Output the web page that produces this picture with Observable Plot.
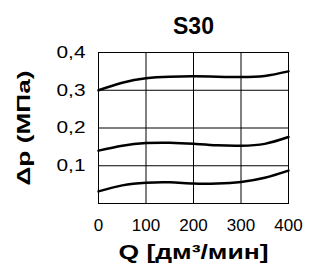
<!DOCTYPE html>
<html><head><meta charset="utf-8">
<script src="https://cdn.jsdelivr.net/npm/d3@7"></script>
<script src="https://cdn.jsdelivr.net/npm/@observablehq/plot@0.6"></script>
<style>body{margin:0;background:#fff}svg{display:block}</style>
</head><body><div id="c"></div>
<script>
const title = "S30";
const xLabel = "Q [дм³/мин]";
const yLabel = "Δp (МПа)";
const q = [0, 50, 100, 150, 200, 250, 300, 350, 400];
const curveTop = [0.300, 0.320, 0.332, 0.336, 0.337, 0.336, 0.335, 0.338, 0.350];
const curveMid = [0.140, 0.153, 0.160, 0.161, 0.158, 0.154, 0.153, 0.158, 0.176];
const curveBot = [0.032, 0.048, 0.055, 0.056, 0.053, 0.053, 0.057, 0.068, 0.087];
const xTicks = [0, 100, 200, 300, 400];
const yTicks = [0.1, 0.2, 0.3, 0.4];

const series = [["top", curveTop], ["mid", curveMid], ["bot", curveBot]];
const data = series.flatMap(([k, v]) => v.map((y, i) => ({k, x: q[i], y})));
const fmt = d => d.toFixed(1).replace(".", ",");

const chart = Plot.plot({
  width: 310, height: 266,
  marginLeft: 98, marginRight: 22, marginTop: 52, marginBottom: 63,
  style: {fontFamily: "'Liberation Sans', Arial, sans-serif", fontSize: "17px", color: "#000", background: "#fff"},
  x: {domain: [0, 400]},
  y: {domain: [0, 0.4]},
  marks: [
    Plot.gridX([100, 200, 300], {stroke: "#000", strokeOpacity: 1, strokeWidth: 1}),
    Plot.gridY([0.1, 0.2, 0.3], {stroke: "#000", strokeOpacity: 1, strokeWidth: 1}),
    Plot.frame({stroke: "#000", strokeWidth: 1}),
    Plot.axisX(xTicks, {tickSize: 0, tickPadding: 15, fontSize: 17, label: xLabel, labelAnchor: "center", labelArrow: "none", labelOffset: 55}),
    Plot.axisY(yTicks, {tickSize: 0, tickPadding: 13, tickFormat: fmt, fontSize: 17, label: yLabel, labelAnchor: "center", labelArrow: "none", labelOffset: 82}),
    Plot.line(data, {x: "x", y: "y", z: "k", curve: "natural", stroke: "#000", strokeWidth: 2.5}),
    Plot.text([title], {frameAnchor: "top", dy: -19, lineAnchor: "bottom", fontSize: 23, fontWeight: "bold"})
  ]
});
document.getElementById("c").appendChild(chart);
const svg = d3.select(chart);
svg.selectAll("[aria-label='x-axis label'] text").attr("font-weight", "bold").attr("font-size", 20).attr("textLength", 150).attr("lengthAdjust", "spacingAndGlyphs");
svg.selectAll("[aria-label='y-axis label'] text").attr("font-weight", "bold").attr("font-size", 19).attr("textLength", 115).attr("lengthAdjust", "spacingAndGlyphs");
svg.selectAll("[aria-label='y-axis tick label'] text").attr("textLength", 29).attr("lengthAdjust", "spacingAndGlyphs");
</script></body></html>
